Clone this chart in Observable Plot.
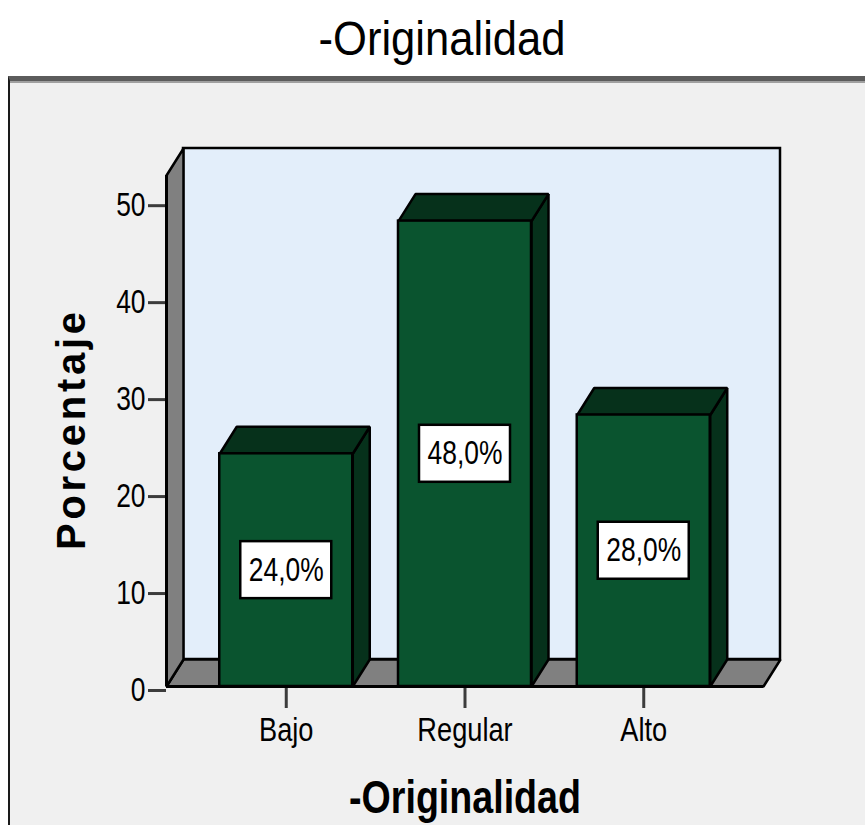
<!DOCTYPE html>
<html>
<head>
<meta charset="utf-8">
<script src="https://cdn.jsdelivr.net/npm/d3@7"></script>
<script src="https://cdn.jsdelivr.net/npm/@observablehq/plot@0.6"></script>
<style>
  html, body { margin: 0; padding: 0; background: #ffffff; }
  #wrap { position: relative; width: 865px; height: 825px; overflow: hidden; }
  #frame { position: absolute; left: 8px; top: 76px; width: 880px; height: 780px;
           background: #f0f0f0; border-top: 5px solid #5c5c5c; border-left: 2px solid #1a1a1a;
           box-shadow: inset 0 2px 0 #a0a0a0; }
  #chart { position: absolute; left: 0; top: 0; }
</style>
</head>
<body>
<div id="wrap"><div id="frame"></div><div id="chart"></div></div>
<script>
// ---- data ----
const categories = ["Bajo", "Regular", "Alto"];
const percentages = [24.0, 48.0, 28.0];
const valueLabels = ["24,0%", "48,0%", "28,0%"];
const yTicks = [0, 10, 20, 30, 40, 50];
const chartTitle = "-Originalidad";
const xTitle = "-Originalidad";
const yTitle = "Porcentaje";

// ---- layout ----
const W = 865, H = 825;
const mL = 166, mR = 102, mT = 175, mB = 139;
const xDomain = [-0.67, 2.67];
const yDomain = [0, 52.7];
const xUnit = (W - mL - mR) / (xDomain[1] - xDomain[0]);
const yUnit = (H - mT - mB) / (yDomain[1] - yDomain[0]);
const dX = 17 / xUnit, dY = 27 / yUnit;       // 3D depth offsets
const half = 66.5 / xUnit;                     // bar half width
const boxHW = 45.5 / xUnit, boxHH = 28.5 / yUnit;

const font = "'Liberation Sans', Arial, sans-serif";

const bars = categories.map((c, i) => ({i, c, v: percentages[i], label: valueLabels[i]}));

const walls = [
  {id: "floor", pts: [[xDomain[0], 0], [xDomain[1], 0], [xDomain[1] + dX, dY], [xDomain[0] + dX, dY]]},
  {id: "left", pts: [[xDomain[0], 0], [xDomain[0], yDomain[1]], [xDomain[0] + dX, yDomain[1] + dY], [xDomain[0] + dX, dY]]}
].flatMap(w => w.pts.map(([x, y]) => ({id: w.id, x, y})));

const barFaces = bars.flatMap(b => {
  const x1 = b.i - half, x2 = b.i + half;
  return [
    {id: "side" + b.i, pts: [[x2, 0], [x2, b.v], [x2 + dX, b.v + dY], [x2 + dX, dY]]},
    {id: "top" + b.i, pts: [[x1, b.v], [x2, b.v], [x2 + dX, b.v + dY], [x1 + dX, b.v + dY]]}
  ];
}).flatMap(f => f.pts.map(([x, y]) => ({id: f.id, x, y})));

const plot = Plot.plot({
  width: W, height: H,
  marginLeft: mL, marginRight: mR, marginTop: mT, marginBottom: mB,
  style: {background: "transparent", fontFamily: font, color: "#000"},
  x: {type: "linear", domain: xDomain},
  y: {type: "linear", domain: yDomain},
  marks: [
    // back wall
    Plot.rect([0], {x1: () => xDomain[0] + dX, x2: () => xDomain[1] + dX, y1: () => dY, y2: () => yDomain[1] + dY,
      fill: "#e3eefa", stroke: "#000", strokeWidth: 2.5}),
    // floor & left wall
    Plot.line(walls, {x: "x", y: "y", z: "id", curve: "linear-closed", fill: "#808080", stroke: "#000", strokeWidth: 2.5, strokeLinejoin: "miter"}),
    // bar sides and tops
    Plot.line(barFaces, {x: "x", y: "y", z: "id", curve: "linear-closed", fill: "#06311b", stroke: "#000", strokeWidth: 2.5, strokeLinejoin: "miter"}),
    // bar fronts
    Plot.rect(bars, {x1: d => d.i - half, x2: d => d.i + half, y1: () => 0, y2: "v",
      fill: "#0a542f", stroke: "#000", strokeWidth: 2.5}),
    // label boxes
    Plot.rect(bars, {x1: d => d.i - boxHW, x2: d => d.i + boxHW, y1: d => d.v / 2 - boxHH, y2: d => d.v / 2 + boxHH,
      fill: "#ffffff", stroke: "#000", strokeWidth: 2.5}),
    Plot.text(bars, {x: "i", y: d => d.v / 2, text: "label", fontSize: 33, fill: "#000"}),
    // axes
    Plot.axisY({ticks: yTicks, tickSize: 18, tickPadding: 3, fontSize: 33, stroke: "#3c3c3c", strokeWidth: 3, label: null, dy: 4}),
    Plot.axisX({ticks: [0, 1, 2], tickFormat: i => categories[i], tickSize: 22, tickPadding: 8, fontSize: 34,
      stroke: "#3c3c3c", strokeWidth: 3, label: null}),
    // front edges
    Plot.ruleY([0], {x1: () => xDomain[0], x2: () => xDomain[1], stroke: "#000", strokeWidth: 3}),
    Plot.ruleX([xDomain[0]], {y1: () => 0, y2: () => yDomain[1], stroke: "#000", strokeWidth: 3}),
    // titles
    Plot.text([chartTitle], {frameAnchor: "top", dx: -23, dy: -155, text: d => d, fontSize: 48, fill: "#000"}),
    Plot.text([xTitle], {frameAnchor: "bottom", dy: 126, text: d => d, fontSize: 46, fontWeight: "bold", fill: "#000"}),
    Plot.text([yTitle], {frameAnchor: "left", textAnchor: "middle", dx: -94, rotate: -90, text: d => d,
      fontSize: 40, fontWeight: "bold", fill: "#000"})
  ]
});

document.getElementById("chart").appendChild(plot);

// condense the text to match the narrow face of the original
plot.querySelectorAll("text").forEach(t => {
  const s = t.textContent;
  const len = t.getComputedTextLength();
  let target, adjust = "spacingAndGlyphs";
  if (s === yTitle) { target = 238; adjust = "spacing"; }
  else if (s === chartTitle) {
    const fw = t.getAttribute("font-weight") || (t.parentNode.getAttribute && t.parentNode.getAttribute("font-weight"));
    target = fw === "bold" ? 232 : 247;
  }
  else target = len * 0.8;
  t.setAttribute("textLength", target);
  t.setAttribute("lengthAdjust", adjust);
});
</script>
</body>
</html>
